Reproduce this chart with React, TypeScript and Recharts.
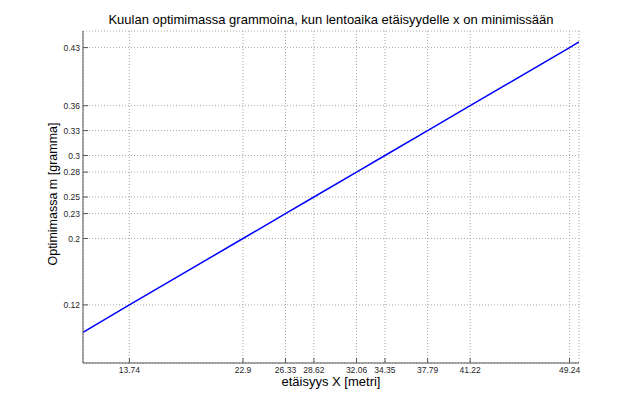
import { LineChart, Line, XAxis, YAxis, CartesianGrid } from 'recharts';

// etäisyys X [m] and optimimassa m [g]
const DIST = [10, 13.74, 22.9, 26.33, 28.62, 32.06, 34.35, 37.79, 41.22, 49.24, 50];
const MASS = [0.087, 0.12, 0.2, 0.23, 0.25, 0.28, 0.3, 0.33, 0.36, 0.43, 0.437];

const X_TICKS = [13.74, 22.9, 26.33, 28.62, 32.06, 34.35, 37.79, 41.22, 49.24];
const Y_TICKS = [0.12, 0.2, 0.23, 0.25, 0.28, 0.3, 0.33, 0.36, 0.43];

const data = DIST.map((x, i) => ({ x, m: MASS[i] }));

const FONT = '"Liberation Sans", Arial, sans-serif';
const FRAME = '#555';
const TICK_LEN = 5;

const BottomTick = ({ x, y, payload }: any) => (
  <g>
    <line x1={x} x2={x} y1={y} y2={y - TICK_LEN} stroke={FRAME} />
    <text x={x} y={y + 10} textAnchor="middle" fontSize={8.5} fontFamily={FONT} fill="#262626">
      {payload.value}
    </text>
  </g>
);

const LeftTick = ({ x, y, payload }: any) => (
  <g>
    <line x1={x} x2={x + TICK_LEN} y1={y} y2={y} stroke={FRAME} />
    <text x={x - 3} y={y + 3} textAnchor="end" fontSize={8.5} fontFamily={FONT} fill="#262626">
      {payload.value}
    </text>
  </g>
);

const TopTick = ({ x, y }: any) => (
  <line x1={x} x2={x} y1={y} y2={y + TICK_LEN} stroke={FRAME} />
);

const RightTick = ({ x, y }: any) => (
  <line x1={x} x2={x - TICK_LEN} y1={y} y2={y} stroke={FRAME} />
);

export default function App() {
  return (
    <div style={{ position: 'absolute', left: 0, top: 0, width: 640, height: 409, background: '#fff', fontFamily: FONT }}>
      <div style={{ position: 'absolute', left: 0, width: 662, top: 12, textAlign: 'center', fontSize: 13, color: '#000' }}>
        Kuulan optimimassa grammoina, kun lentoaika etäisyydelle x on minimissään
      </div>
      <div style={{ position: 'absolute', left: 0, width: 662, top: 374, textAlign: 'center', fontSize: 13, color: '#000' }}>
        etäisyys X [metri]
      </div>
      <div
        style={{
          position: 'absolute', left: 53, top: 194, fontSize: 12.5, color: '#000', whiteSpace: 'nowrap',
          transform: 'translate(-50%, -50%) rotate(-90deg)',
        }}
      >
        Optimimassa m [gramma]
      </div>
      <LineChart width={640} height={409} data={data} margin={{ top: 31, right: 61, bottom: 16, left: 43 }}>
        <CartesianGrid xAxisId="b" yAxisId="l" stroke="#a8a8a8" strokeDasharray="1 2" />
        <XAxis
          xAxisId="b" dataKey="x" type="number" domain={[10, 50]} ticks={X_TICKS} interval={0}
          height={30} tickSize={0} tickMargin={0} tickLine={false} axisLine={{ stroke: FRAME }}
          tick={BottomTick} allowDataOverflow
        />
        <XAxis
          xAxisId="t" orientation="top" dataKey="x" type="number" domain={[10, 50]} ticks={X_TICKS} interval={0}
          height={0} tickSize={0} tickMargin={0} tickLine={false} axisLine={{ stroke: FRAME }}
          tick={TopTick} allowDataOverflow
        />
        <YAxis
          yAxisId="l" type="number" domain={[0.05, 0.45]} ticks={Y_TICKS} interval={0}
          width={40} tickSize={0} tickMargin={0} tickLine={false} axisLine={{ stroke: FRAME }}
          tick={LeftTick} allowDataOverflow
        />
        <YAxis
          yAxisId="r" orientation="right" type="number" domain={[0.05, 0.45]} ticks={Y_TICKS} interval={0}
          width={0} tickSize={0} tickMargin={0} tickLine={false} axisLine={{ stroke: FRAME }}
          tick={RightTick} allowDataOverflow
        />
        <Line
          xAxisId="b" yAxisId="l" dataKey="m" type="linear" stroke="#0000ff" strokeWidth={1.5}
          dot={false} isAnimationActive={false}
        />
      </LineChart>
    </div>
  );
}
